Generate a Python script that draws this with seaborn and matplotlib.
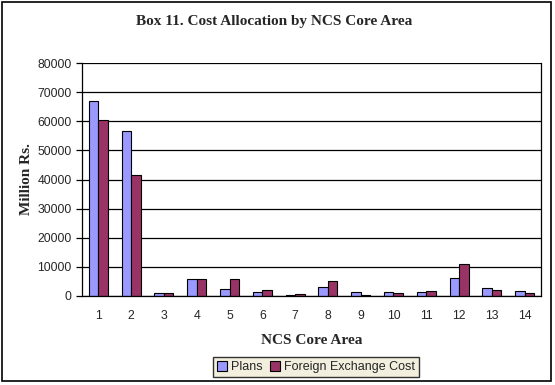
import pandas as pd
import matplotlib.pyplot as plt
import numpy as np
import seaborn as sns
from matplotlib.patches import Rectangle

areas = [str(i) for i in range(1, 15)]
plans = [67000, 56700, 900, 5700, 2400, 1300, 300, 3000, 1300, 1300, 1300, 6100, 2700, 1600]
fx_cost = [60400, 41500, 900, 5700, 5700, 2000, 600, 5100, 500, 900, 1600, 11000, 2000, 900]

df = pd.DataFrame({
    "area": areas * 2,
    "value": plans + fx_cost,
    "series": ["Plans"] * 14 + ["Foreign Exchange Cost"] * 14,
})

sns.set_style("white")
plt.rcParams['font.family'] = ['Liberation Sans', 'DejaVu Sans']

fig = plt.figure(figsize=(5.55, 3.85), dpi=100)
ax = fig.add_axes([82/555, 89/385, 459/555, 233/385])

pal = {"Plans": "#9999FF", "Foreign Exchange Cost": "#993366"}
sns.barplot(data=df, x="area", y="value", hue="series", palette=pal,
            width=0.58, edgecolor="black", linewidth=0.8, saturation=1,
            legend=False, ax=ax)

ax.set_ylim(0, 80000)
ax.set_xlim(-0.5, 13.5)
ax.set_yticks(np.arange(0, 80001, 10000))
ax.yaxis.grid(True, color="black", linewidth=0.9)
ax.set_axisbelow(True)
for s in ["left", "bottom", "right"]:
    ax.spines[s].set_color("black")
    ax.spines[s].set_linewidth(0.9)
ax.spines["top"].set_visible(False)

ax.tick_params(axis="x", which="major", length=0, labelsize=8.8, pad=10)
ax.set_xticks(np.arange(-0.5, 14, 1), minor=True)
ax.tick_params(axis="x", which="minor", length=4, width=0.9, color="black", direction="out")
ax.tick_params(axis="y", length=4, width=0.9, color="black", direction="out", labelsize=8.8, left=True)

ax.set_xlabel("NCS Core Area", fontfamily="Liberation Serif", fontweight="bold", fontsize=11, labelpad=9)
ax.set_ylabel("Million Rs.", fontfamily="Liberation Serif", fontweight="bold", fontsize=11, labelpad=3)
fig.text(274/555, 1 - 22/385, "Box 11. Cost Allocation by NCS Core Area", ha="center", va="center",
         fontfamily="Liberation Serif", fontweight="bold", fontsize=11)

handles = [Rectangle((0, 0), 1, 1, facecolor=pal[k], edgecolor="black", linewidth=0.8) for k in pal]
leg = fig.legend(handles, list(pal.keys()), loc="center", bbox_to_anchor=(316/555, 1 - 367/385),
                 ncol=2, fontsize=9, frameon=True, fancybox=False, handlelength=0.8, handleheight=0.8,
                 handletextpad=0.3, columnspacing=0.6, borderpad=0.3)
leg.get_frame().set_facecolor("#EFEBD6")
leg.get_frame().set_edgecolor("black")
leg.get_frame().set_linewidth(1.0)

fig.patches.append(Rectangle((2/555, 4/385), 549/555, 379/385, transform=fig.transFigure,
                             fill=False, edgecolor="black", linewidth=1.2))

fig.savefig("out.png", dpi=100)
